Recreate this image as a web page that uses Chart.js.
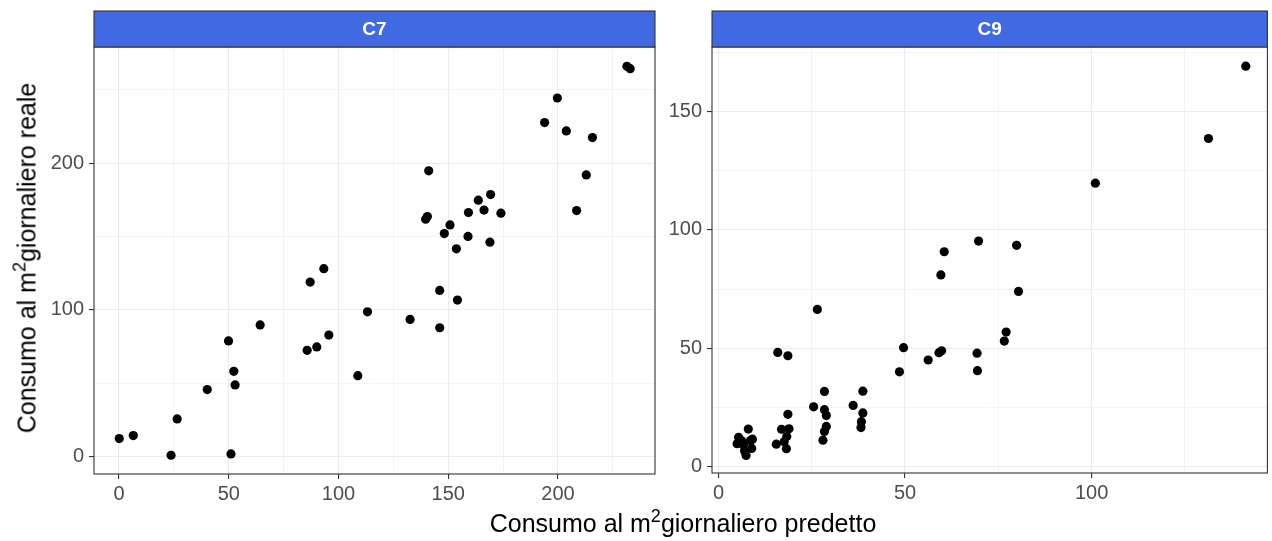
<!DOCTYPE html>
<html>
<head>
<meta charset="utf-8">
<script src="https://cdn.jsdelivr.net/npm/chart.js@4.4.1/dist/chart.umd.min.js"></script>
<style>
  html, body { margin: 0; padding: 0; background: #fff; }
  body { width: 1272px; height: 541px; position: relative; overflow: hidden;
         font-family: "Liberation Sans", Arial, sans-serif; }
  canvas { position: absolute; top: 0; }
  #c7 { left: 0; }
  #c9 { left: 660px; }
  .axis-title { position: absolute; color: #000; font-size: 25px; white-space: nowrap; line-height: 1; }
  .axis-title sup { font-size: 0.72em; vertical-align: 0.55em; line-height: 0; }
  #xtitle { left: 683px; top: 511px; transform: translateX(-50%); }
  #ytitle { left: 27px; top: 258px; transform: translate(-50%, -50%) rotate(-90deg); }
</style>
</head>
<body>
<canvas id="c7" width="660" height="541"></canvas>
<canvas id="c9" width="612" height="541"></canvas>
<div id="ytitle" class="axis-title">Consumo al m<sup>2</sup>giornaliero reale</div>
<div id="xtitle" class="axis-title">Consumo al m<sup>2</sup>giornaliero predetto</div>
<script>
// Facet names
const panelNames = ['C7', 'C9'];

// C7: daily consumption per m² (predicted vs actual)
const c7Predetto = [0.1, 6.5, 23.7, 26.5, 40.2, 49.9, 52.3, 52.9, 51.0, 64.3, 85.7, 90.1, 95.6, 87.1,
  93.3, 108.8, 113.2, 141.1, 140.5, 139.7, 150.8, 148.2, 159.2, 163.7, 169.3, 166.3, 174.0, 159.0,
  153.7, 169.0, 146.1, 154.2, 132.6, 146.1, 212.9, 208.5, 231.4, 232.9, 199.7, 193.9, 203.8, 215.7];
const c7Reale = [12.1, 14.1, 0.7, 25.5, 45.5, 78.7, 58.0, 48.7, 1.6, 89.6, 72.3, 74.6, 82.7, 118.9,
  128.0, 55.0, 98.6, 194.8, 163.6, 161.8, 157.9, 152.0, 166.3, 174.8, 178.6, 168.0, 165.9, 150.0,
  141.6, 146.1, 113.2, 106.6, 93.4, 87.7, 192.0, 167.7, 266.1, 264.5, 244.5, 227.7, 222.0, 217.5];

// C9: daily consumption per m² (predicted vs actual)
const c9Predetto = [5.0, 5.4, 6.2, 6.7, 7.0, 7.4, 8.0, 8.6, 8.9, 9.1,
  15.5, 16.9, 18.6, 18.9, 18.3, 17.6, 18.2, 15.9, 18.6,
  25.5, 28.4, 28.4, 28.9, 28.9, 28.4, 28.0, 26.5,
  36.1, 38.7, 38.7, 38.3, 38.2,
  48.5, 49.6, 56.2, 59.1, 59.8, 69.3, 69.4, 76.6, 77.1, 80.4, 59.6, 60.5, 69.7, 79.9,
  101.0, 131.3, 141.3];
const c9Reale = [9.6, 12.3, 10.8, 9.0, 6.5, 4.6, 15.8, 10.9, 7.6, 11.5,
  9.4, 15.7, 22.0, 15.9, 12.6, 10.4, 7.5, 48.2, 46.8,
  25.2, 31.7, 24.0, 21.5, 16.9, 14.8, 11.1, 66.4,
  25.8, 31.8, 22.6, 18.9, 16.4,
  40.0, 50.2, 45.0, 48.1, 48.9, 47.9, 40.5, 53.0, 56.8, 74.0, 81.0, 90.8, 95.3, 93.5,
  119.8, 138.7, 169.3];

// Tick values (labelled) and minor grid values
const c7XTicks = [0, 50, 100, 150, 200];
const c7XMinor = [25, 75, 125, 175, 225];
const c7YTicks = [0, 100, 200];
const c7YMinor = [50, 150, 250];
const c9XTicks = [0, 50, 100];
const c9XMinor = [25, 75, 125];
const c9YTicks = [0, 50, 100, 150];
const c9YMinor = [25, 75, 125, 175];

const FONT = '"Liberation Sans", Arial, sans-serif';

// Panel border + coloured strip with the facet label
const facetStrip = {
  id: 'facetStrip',
  afterDraw(chart, args, opts) {
    const { ctx, chartArea: a } = chart;
    const w = a.right - a.left;
    const h = a.top - opts.top;
    ctx.save();
    ctx.strokeStyle = '#333333';
    ctx.lineWidth = 1.1;
    ctx.strokeRect(a.left, a.top, w, a.bottom - a.top);
    ctx.fillStyle = '#4169E1';
    ctx.fillRect(a.left, opts.top, w, h);
    ctx.strokeRect(a.left, opts.top, w, h);
    ctx.fillStyle = '#ffffff';
    ctx.font = 'bold 19px ' + FONT;
    ctx.textAlign = 'center';
    ctx.textBaseline = 'middle';
    ctx.fillText(opts.text, a.left + w / 2, opts.top + h / 2 + 1);
    ctx.restore();
  }
};

function axis(major, minor, min, max, fit, pad) {
  const isMajor = v => major.includes(v);
  return {
    type: 'linear',
    min: min,
    max: max,
    afterBuildTicks: s => {
      s.ticks = major.concat(minor).sort((p, q) => p - q).map(v => ({ value: v }));
    },
    afterFit: fit,
    border: { display: false },
    grid: {
      color: '#ebebeb',
      lineWidth: c => (c.tick && isMajor(c.tick.value)) ? 1.1 : 0.55,
      tickLength: 5,
      tickWidth: 1.1,
      tickColor: c => (c.tick && isMajor(c.tick.value)) ? '#333333' : 'rgba(0,0,0,0)'
    },
    ticks: {
      callback: v => isMajor(v) ? String(v) : '',
      color: '#4d4d4d',
      font: { size: 20, family: FONT },
      padding: pad,
      maxRotation: 0,
      autoSkip: false
    }
  };
}

function makePanel(id, name, xs, ys, xScale, yScale, padding) {
  return new Chart(document.getElementById(id), {
    type: 'scatter',
    data: {
      datasets: [{
        data: xs.map((x, i) => ({ x: x, y: ys[i] })),
        pointRadius: 4.6,
        pointBackgroundColor: '#000000',
        pointBorderWidth: 0
      }]
    },
    options: {
      responsive: false,
      devicePixelRatio: 1,
      animation: false,
      layout: { padding: padding },
      scales: { x: xScale, y: yScale },
      plugins: {
        legend: { display: false },
        tooltip: { enabled: false },
        facetStrip: { text: name, top: 11 }
      }
    },
    plugins: [facetStrip]
  });
}

makePanel('c7', panelNames[0], c7Predetto, c7Reale,
  axis(c7XTicks, c7XMinor, -11.4, 244.2, s => { s.height = 67; }, 3),
  axis(c7YTicks, c7YMinor, -12.1, 279.3, s => { s.width = 94; }, 5),
  { top: 47, right: 5, left: 0, bottom: 0 });

makePanel('c9', panelNames[1], c9Predetto, c9Reale,
  axis(c9XTicks, c9XMinor, -1.73, 147.1, s => { s.height = 68; }, 3),
  axis(c9YTicks, c9YMinor, -2.8, 177.4, s => { s.width = 52; }, 5),
  { top: 47, right: 2, left: 0, bottom: 0 });
</script>
</body>
</html>
